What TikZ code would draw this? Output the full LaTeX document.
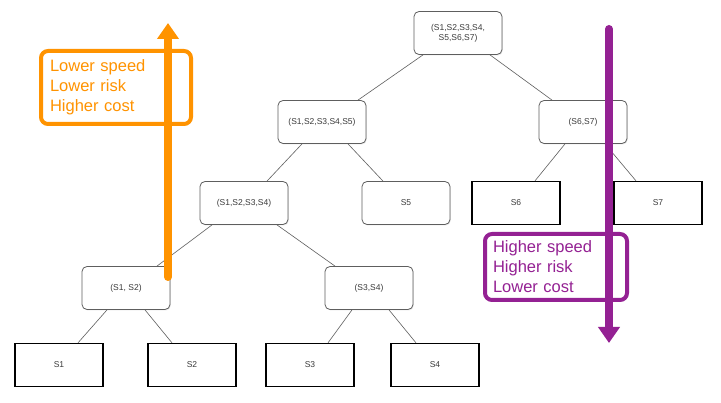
\documentclass[tikz,border=0pt]{standalone}
\usepackage{fontspec}
\setmainfont{Liberation Sans}
\usetikzlibrary{arrows.meta,shadows}
\definecolor{korange}{HTML}{FF9300}
\definecolor{kpurple}{HTML}{942193}
\definecolor{ntext}{HTML}{3A3A3A}
\definecolor{nborder}{HTML}{5E5E5E}
\begin{document}
\begin{tikzpicture}[x=1pt,y=-1pt,
  rbox/.style={draw=nborder,line width=0.8pt,rounded corners=5pt,fill=white,
    minimum width=88pt,minimum height=43pt,inner sep=1pt,
    font=\fontsize{8.5}{10}\selectfont,text=ntext,align=center,
    drop shadow={opacity=0.18,shadow xshift=0.8pt,shadow yshift=-1pt}},
  sbox/.style={draw=black,line width=1.3pt,fill=white,
    minimum width=88pt,minimum height=43pt,inner sep=1pt,
    font=\fontsize{8.5}{10}\selectfont,text=ntext,
    drop shadow={opacity=0.18,shadow xshift=0.8pt,shadow yshift=-1pt}},
  edge/.style={draw=nborder,line width=0.6pt},
  callout/.style={line width=4pt,rounded corners=7pt,fill=white,
    font=\fontsize{16.5}{20}\selectfont,align=left,anchor=center,
    drop shadow={opacity=0.25,shadow xshift=1.2pt,shadow yshift=-1.5pt}},
  bigarrow/.style={line width=8pt,line cap=round,-{Triangle[width=21pt,length=16pt]}}
]
\useasboundingbox (0,0) rectangle (721,403);
\fill[white] (0,0) rectangle (721,403);

% tree nodes
\node[rbox] (root) at (458,33) {(S1,S2,S3,S4,\\S5,S6,S7)};
\node[rbox] (n12345) at (322,122) {(S1,S2,S3,S4,S5)};
\node[rbox] (n67) at (583,122) {(S6,S7)};
\node[rbox] (n1234) at (244,203) {(S1,S2,S3,S4)};
\node[rbox] (n5) at (406,203) {S5};
\node[sbox] (s6) at (516,203) {S6};
\node[sbox] (s7) at (658,203) {S7};
\node[rbox] (n12) at (126,288) {(S1, S2)};
\node[rbox] (n34) at (369,288) {(S3,S4)};
\node[sbox] (s1) at (59,365) {S1};
\node[sbox] (s2) at (192,365) {S2};
\node[sbox] (s3) at (310,365) {S3};
\node[sbox] (s4) at (435,365) {S4};

% edges
\draw[edge] ([xshift=-35pt]root.south) -- ([xshift=36pt]n12345.north);
\draw[edge] ([xshift=32pt]root.south) -- ([xshift=-31pt]n67.north);
\draw[edge] ([xshift=-20pt]n12345.south) -- ([xshift=23pt]n1234.north);
\draw[edge] ([xshift=26pt]n12345.south) -- ([xshift=-23pt]n5.north);
\draw[edge] ([xshift=-18pt]n67.south) -- ([xshift=19pt]s6.north);
\draw[edge] ([xshift=22pt]n67.south) -- ([xshift=-22pt]s7.north);
\draw[edge] ([xshift=-32pt]n1234.south) -- ([xshift=31pt]n12.north);
\draw[edge] ([xshift=33pt]n1234.south) -- ([xshift=-34pt]n34.north);
\draw[edge] ([xshift=-19pt]n12.south) -- ([xshift=19pt]s1.north);
\draw[edge] ([xshift=19pt]n12.south) -- ([xshift=-20pt]s2.north);
\draw[edge] ([xshift=-17pt]n34.south) -- ([xshift=18pt]s3.north);
\draw[edge] ([xshift=20pt]n34.south) -- ([xshift=-19pt]s4.north);

% callouts
\node[callout,draw=korange,text=korange,minimum width=150pt,minimum height=73pt,
  text width=132pt,inner xsep=9pt] (ocall) at (116,87.5)
  {Lower speed\\Lower risk\\Higher cost};
\node[callout,draw=kpurple,text=kpurple,minimum width=142pt,minimum height=66pt,
  text width=126pt,inner xsep=8pt] (pcall) at (556,267)
  {Higher speed\\Higher risk\\Lower cost};

% arrows
\coordinate (obot) at (168,277);
\coordinate (otop) at (168,23);
\coordinate (ptop) at (609,29);
\coordinate (pbot) at (609,343);
\draw[bigarrow,korange] (obot) -- (otop);
\draw[bigarrow,kpurple] (ptop) -- (pbot);
\end{tikzpicture}
\end{document}
